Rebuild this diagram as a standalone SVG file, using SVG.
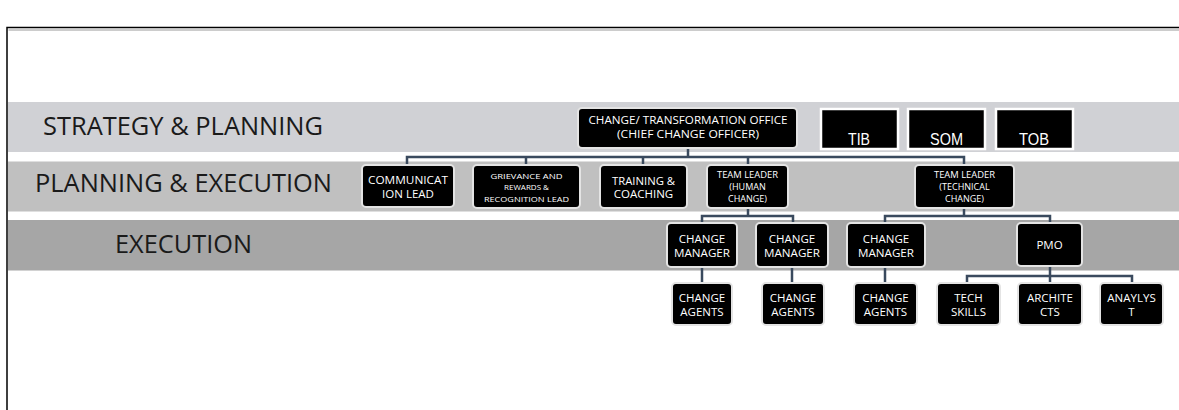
<svg xmlns="http://www.w3.org/2000/svg" width="1179" height="410" viewBox="0 0 1179 410">
  <style>
    .band-label { font-family: "Open Sans", "Noto Sans", sans-serif; font-size: 25px; fill: #1a1a1a; }
    .node rect { fill: #000; stroke: #e4e4e4; stroke-width: 2; }
    .node text { font-family: "Open Sans", "Noto Sans", sans-serif; fill: #fff; text-anchor: middle; }
    .t13 { font-size: 11.5px; }
    .t11 { font-size: 10.5px; }
    .t10 { font-size: 9px; }
    .t8 { font-size: 8px; }
    .sq rect { fill: #000; stroke: #fff; stroke-width: 2.5; }
    .sq text { font-family: "Liberation Sans", Arial, sans-serif; font-size: 17px; fill: #fff; text-anchor: middle; }
    .conn path { fill: none; stroke: #3a4a5e; stroke-width: 2.5; }
  </style>

  <rect x="0" y="0" width="1179" height="410" fill="#fff"/>

  <!-- page frame -->
  <g id="frame" fill="none">
    <path d="M7 410 V27.5 H1179" stroke="#000" stroke-width="1.5"/>
    <path d="M8.5 30 H1179" stroke="#9a9a9a" stroke-width="1"/>
  </g>

  <!-- swim-lane bands -->
  <g id="bands">
    <rect x="8" y="102" width="1171" height="50" fill="#d0d1d5"/>
    <rect x="8" y="161.5" width="1171" height="50" fill="#c0c0c0"/>
    <rect x="8" y="220" width="1171" height="50.5" fill="#a6a6a6"/>
    <text class="band-label" x="43" y="135" textLength="280" lengthAdjust="spacingAndGlyphs">STRATEGY &amp; PLANNING</text>
    <text class="band-label" x="35" y="192" textLength="297" lengthAdjust="spacingAndGlyphs">PLANNING &amp; EXECUTION</text>
    <text class="band-label" x="115" y="253" textLength="137" lengthAdjust="spacingAndGlyphs">EXECUTION</text>
  </g>

  <!-- connectors -->
  <g id="connectors" class="conn">
    <path d="M688 148 V157"/>
    <path d="M407 166 V157 H964 V166"/>
    <path d="M526 157 V166"/>
    <path d="M643 157 V166"/>
    <path d="M748 157 V166"/>
    <path d="M748 208 V216"/>
    <path d="M702 224 V216 H793 V224"/>
    <path d="M964 208 V216"/>
    <path d="M885 224 V216 H1050 V224"/>
    <path d="M702 267 V284"/>
    <path d="M792 267 V284"/>
    <path d="M885 267 V284"/>
    <path d="M1050 266 V284"/>
    <path d="M967 284 V276 H1132 V284"/>
  </g>

  <!-- strategy row -->
  <g id="node-cto" class="node">
    <rect x="578" y="108" width="219" height="40" rx="4"/>
    <text class="t11" x="688" y="124" textLength="199" lengthAdjust="spacingAndGlyphs">CHANGE/ TRANSFORMATION OFFICE</text>
    <text class="t11" x="688" y="138" textLength="142" lengthAdjust="spacingAndGlyphs">(CHIEF CHANGE OFFICER)</text>
  </g>
  <g id="node-tib" class="sq">
    <rect x="821" y="109" width="77" height="40"/>
    <text x="859" y="145" textLength="22" lengthAdjust="spacingAndGlyphs">TIB</text>
  </g>
  <g id="node-som" class="sq">
    <rect x="908" y="109" width="77" height="40"/>
    <text x="946.5" y="145" textLength="33" lengthAdjust="spacingAndGlyphs">SOM</text>
  </g>
  <g id="node-tob" class="sq">
    <rect x="996" y="109" width="77" height="40"/>
    <text x="1034" y="145" textLength="30" lengthAdjust="spacingAndGlyphs">TOB</text>
  </g>

  <!-- planning & execution row -->
  <g id="node-comms" class="node">
    <rect x="362" y="165" width="92" height="42" rx="4"/>
    <text class="t13" x="408" y="184" textLength="80" lengthAdjust="spacingAndGlyphs">COMMUNICAT</text>
    <text class="t13" x="408" y="198">ION LEAD</text>
  </g>
  <g id="node-grievance" class="node">
    <rect x="473" y="165" width="107" height="43" rx="4"/>
    <text class="t8" x="526.5" y="179" textLength="72" lengthAdjust="spacingAndGlyphs">GRIEVANCE AND</text>
    <text class="t8" x="526.5" y="190">REWARDS &amp;</text>
    <text class="t8" x="526.5" y="201.5" textLength="85" lengthAdjust="spacingAndGlyphs">RECOGNITION LEAD</text>
  </g>
  <g id="node-training" class="node">
    <rect x="600" y="165" width="87" height="43" rx="4"/>
    <text class="t13" x="643.5" y="185" textLength="63" lengthAdjust="spacingAndGlyphs">TRAINING &amp;</text>
    <text class="t13" x="643.5" y="198">COACHING</text>
  </g>
  <g id="node-tl-human" class="node">
    <rect x="707" y="165" width="81" height="43" rx="4"/>
    <text class="t10" x="747.5" y="178" textLength="61" lengthAdjust="spacingAndGlyphs">TEAM LEADER</text>
    <text class="t10" x="747.5" y="190">(HUMAN</text>
    <text class="t10" x="747.5" y="202">CHANGE)</text>
  </g>
  <g id="node-tl-tech" class="node">
    <rect x="915" y="165" width="99" height="43" rx="4"/>
    <text class="t10" x="964.5" y="178" textLength="61" lengthAdjust="spacingAndGlyphs">TEAM LEADER</text>
    <text class="t10" x="964.5" y="190">(TECHNICAL</text>
    <text class="t10" x="964.5" y="202">CHANGE)</text>
  </g>

  <!-- execution row -->
  <g id="node-cm1" class="node">
    <rect x="667" y="223" width="70" height="44" rx="4"/>
    <text class="t13" x="702" y="243">CHANGE</text>
    <text class="t13" x="702" y="257" textLength="56" lengthAdjust="spacingAndGlyphs">MANAGER</text>
  </g>
  <g id="node-cm2" class="node">
    <rect x="756" y="223" width="72" height="44" rx="4"/>
    <text class="t13" x="792" y="243">CHANGE</text>
    <text class="t13" x="792" y="257" textLength="56" lengthAdjust="spacingAndGlyphs">MANAGER</text>
  </g>
  <g id="node-cm3" class="node">
    <rect x="847" y="223" width="78" height="44" rx="4"/>
    <text class="t13" x="886" y="243">CHANGE</text>
    <text class="t13" x="886" y="257" textLength="56" lengthAdjust="spacingAndGlyphs">MANAGER</text>
  </g>
  <g id="node-pmo" class="node">
    <rect x="1017" y="223" width="65" height="43" rx="4"/>
    <text class="t13" x="1049.5" y="249">PMO</text>
  </g>

  <!-- teams below execution -->
  <g id="node-ca1" class="node">
    <rect x="672" y="283" width="60" height="42" rx="4"/>
    <text class="t13" x="702" y="302">CHANGE</text>
    <text class="t13" x="702" y="316">AGENTS</text>
  </g>
  <g id="node-ca2" class="node">
    <rect x="762" y="283" width="62" height="42" rx="4"/>
    <text class="t13" x="793" y="302">CHANGE</text>
    <text class="t13" x="793" y="316">AGENTS</text>
  </g>
  <g id="node-ca3" class="node">
    <rect x="854" y="283" width="63" height="42" rx="4"/>
    <text class="t13" x="885.5" y="302">CHANGE</text>
    <text class="t13" x="885.5" y="316">AGENTS</text>
  </g>
  <g id="node-tech" class="node">
    <rect x="937" y="283" width="63" height="42" rx="4"/>
    <text class="t13" x="968.5" y="302">TECH</text>
    <text class="t13" x="968.5" y="316">SKILLS</text>
  </g>
  <g id="node-arch" class="node">
    <rect x="1018" y="283" width="64" height="42" rx="4"/>
    <text class="t13" x="1050" y="302">ARCHITE</text>
    <text class="t13" x="1050" y="316">CTS</text>
  </g>
  <g id="node-analyst" class="node">
    <rect x="1100" y="283" width="63" height="42" rx="4"/>
    <text class="t13" x="1131.5" y="302">ANAYLYS</text>
    <text class="t13" x="1131.5" y="316">T</text>
  </g>
</svg>
